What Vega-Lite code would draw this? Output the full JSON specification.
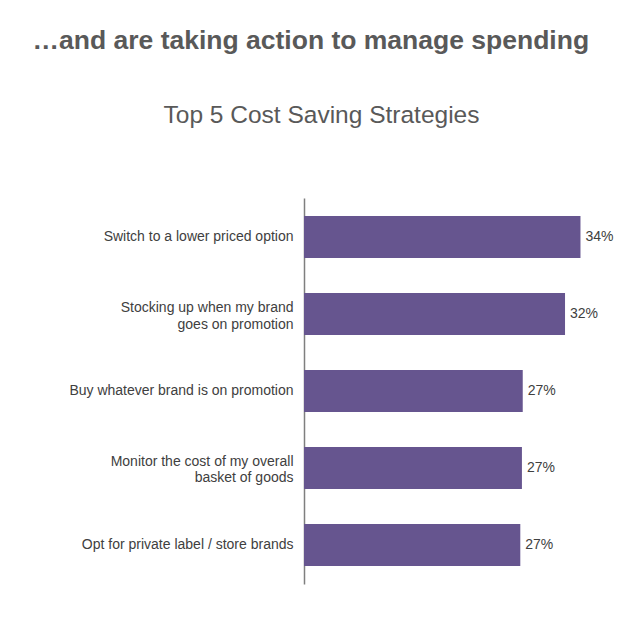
{
  "$schema": "https://vega.github.io/schema/vega-lite/v6.json",
  "width": 309,
  "height": 386,
  "autosize": {"type": "none"},
  "padding": {"left": 304, "top": 198, "right": 13, "bottom": 48},
  "background": "white",
  "config": {"view": {"stroke": null}, "font": "Liberation Sans"},
  "data": {
    "values": [
      {"strategy": "Switch to a lower priced option", "share": 0.34},
      {"strategy": "Stocking up when my brand|goes on promotion", "share": 0.321},
      {"strategy": "Buy whatever brand is on promotion", "share": 0.269},
      {"strategy": "Monitor the cost of my overall|basket of goods", "share": 0.268},
      {"strategy": "Opt for private label / store brands", "share": 0.266}
    ]
  },
  "encoding": {
    "y": {
      "field": "strategy",
      "type": "nominal",
      "sort": null,
      "scale": {"paddingInner": 0.4545, "paddingOuter": 0.235},
      "axis": {
        "title": "…and are taking action to manage spending",
        "titleAngle": 0,
        "titleX": -272,
        "titleY": -150,
        "titleAlign": "left",
        "titleBaseline": "alphabetic",
        "titleFontSize": 26.5,
        "titleFontWeight": "bold",
        "titleColor": "#595959",
        "titleFont": "Liberation Sans",
        "labelExpr": "split(datum.label, '|')",
        "labelFontSize": 14,
        "labelColor": "#404040",
        "labelFont": "Liberation Sans",
        "labelPadding": 11,
        "labelLineHeight": 16.5,
        "labelLimit": 300,
        "labelOffset": {"condition": {"test": "indexof(datum.value, '|') >= 0", "value": -6}, "value": 0},
        "ticks": false,
        "domainColor": "#7f7f7f",
        "domainWidth": 1.5
      }
    },
    "x": {
      "field": "share",
      "type": "quantitative",
      "scale": {"domain": [0, 0.38]},
      "axis": {
        "orient": "top",
        "domain": false,
        "ticks": false,
        "labels": false,
        "grid": false,
        "title": "Top 5 Cost Saving Strategies",
        "titleX": 17,
        "titleY": -76,
        "titleAlign": "center",
        "titleBaseline": "alphabetic",
        "titleFontSize": 24.5,
        "titleFontWeight": "normal",
        "titleColor": "#595959",
        "titleFont": "Liberation Sans"
      }
    }
  },
  "layer": [
    {"mark": {"type": "bar", "color": "#66558f"}},
    {
      "mark": {"type": "text", "align": "left", "baseline": "middle", "dx": 5, "fontSize": 14, "color": "#404040", "font": "Liberation Sans"},
      "encoding": {"text": {"field": "share", "type": "quantitative", "format": ".0%"}}
    }
  ]
}
